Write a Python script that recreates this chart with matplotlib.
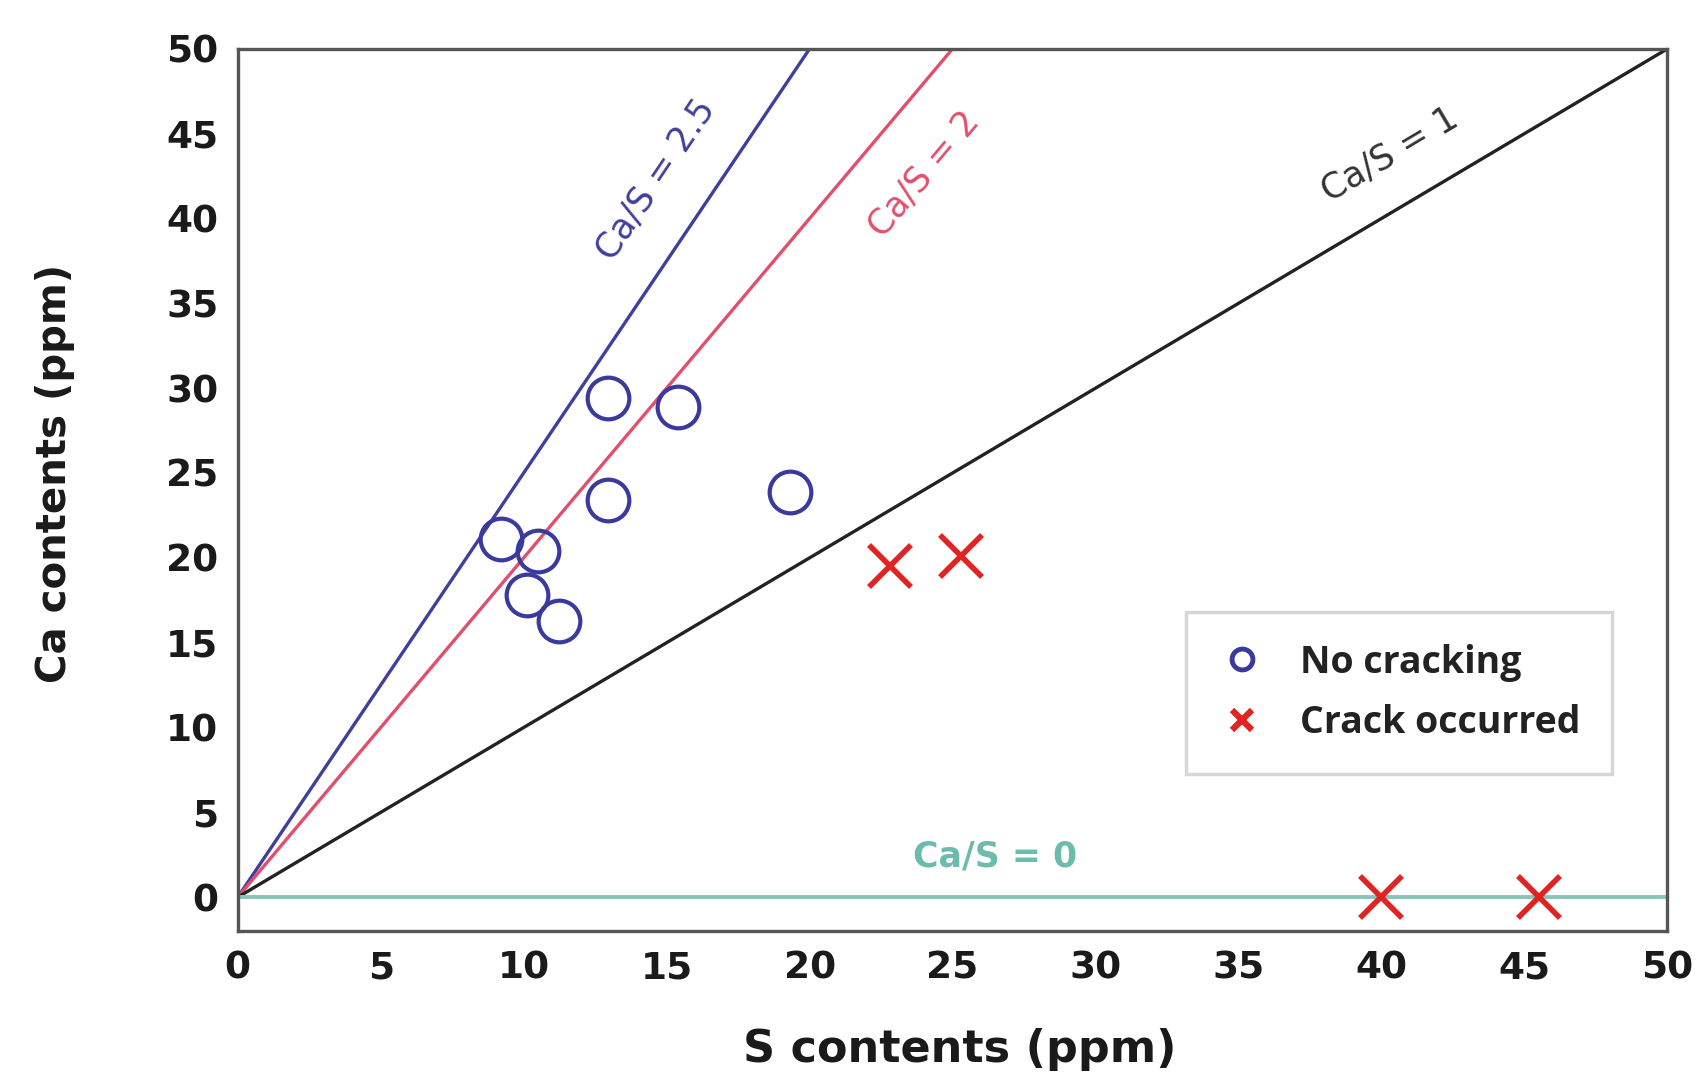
import numpy as np
import matplotlib
matplotlib.use("Agg")
import matplotlib.pyplot as plt
from matplotlib.lines import Line2D

# Data
no_crack_s = [12.95, 15.4, 12.95, 19.3, 9.2, 10.5, 10.1, 11.25]
no_crack_ca = [29.4, 28.9, 23.4, 23.9, 21.1, 20.4, 17.8, 16.3]
crack_s = [22.8, 25.3, 40.0, 45.5]
crack_ca = [19.5, 20.1, 0.0, 0.0]
ratios = [2.5, 2, 1, 0]
ratio_labels = ["Ca/S = 2.5", "Ca/S = 2", "Ca/S = 1", "Ca/S = 0"]
ratio_colors = ["#3f3f9c", "#e0506e", "#222222", "#86c5b8"]
label_colors = ["#3f3f9c", "#e0506e", "#333333", "#6cbcae"]
label_pos = [(14.6, 42.3), (24.0, 42.6), (40.3, 43.8), (26.5, 2.4)]
xticks = [0, 5, 10, 15, 20, 25, 30, 35, 40, 45, 50]
yticks = [0, 5, 10, 15, 20, 25, 30, 35, 40, 45, 50]

fig = plt.figure(figsize=(16.98, 10.84), dpi=100)
ax = fig.add_axes([0.140, 0.141, 0.842, 0.814])

xs = np.array([0, 50])
for r, c in zip(ratios, ratio_colors):
    ax.plot(xs, r * xs, color=c, lw=2.4 if r else 2.8, zorder=2,
            solid_capstyle='butt')

for (lx, ly), lab, r, c in zip(label_pos, ratio_labels, ratios, label_colors):
    ang = np.degrees(np.arctan(r))
    ax.text(lx, ly, lab, color=c, fontsize=25, family="DejaVu Sans",
            fontweight='bold' if r == 0 else 'normal',
            rotation=ang, transform_rotates_text=True,
            rotation_mode='anchor', ha='center', va='center', zorder=3)

ax.plot(no_crack_s, no_crack_ca, linestyle='none', marker='o', ms=30,
        mfc='none', mec='#3a3a9e', mew=3.0, zorder=4)
ax.plot(crack_s, crack_ca, linestyle='none', marker='x', ms=30,
        mec='#e02424', mew=4.0, zorder=4)

ax.set_xlim(0, 50)
ax.set_ylim(-2, 50)
ax.set_xticks(xticks)
ax.set_yticks(yticks)
ax.tick_params(length=0, labelsize=27)
ax.tick_params(axis='y', pad=14)
ax.tick_params(axis='x', pad=14)
for lab in ax.get_xticklabels() + ax.get_yticklabels():
    lab.set_fontfamily("DejaVu Sans")
    lab.set_fontweight("bold")
    lab.set_color("#1a1a1a")
for s in ax.spines.values():
    s.set_color("#555555")
    s.set_linewidth(2.4)

ax.set_xlabel("S contents (ppm)", fontsize=32, fontweight='bold',
              family="DejaVu Sans", color="#1a1a1a")
ax.xaxis.set_label_coords(0.505, -0.134)
ax.set_ylabel("Ca contents (ppm)", fontsize=29, fontweight='bold',
              family="DejaVu Sans", color="#1a1a1a")
ax.yaxis.set_label_coords(-0.128, 0.519)
ax.xaxis.label.set_va('center')
ax.yaxis.label.set_va('center')

handles = [
    Line2D([], [], linestyle='none', marker='o', ms=15, mfc='none',
           mec='#3a3a9e', mew=3.5, label='No cracking'),
    Line2D([], [], linestyle='none', marker='x', ms=15, mec='#e02424',
           mew=4.5, label='Crack occurred'),
]
leg = ax.legend(handles=handles, loc='upper left', bbox_to_anchor=(0.663, 0.362),
                frameon=True, fancybox=False,
                prop={'family': 'Open Sans', 'size': 27, 'weight': 'bold'},
                borderpad=0.85, labelspacing=0.6, handletextpad=0.9,
                handlelength=1.3, borderaxespad=0)
leg.get_frame().set_edgecolor("#cccccc")
leg.get_frame().set_linewidth(2.5)
for t in leg.get_texts():
    t.set_color("#222222")

fig.savefig("out.png", dpi=100)
